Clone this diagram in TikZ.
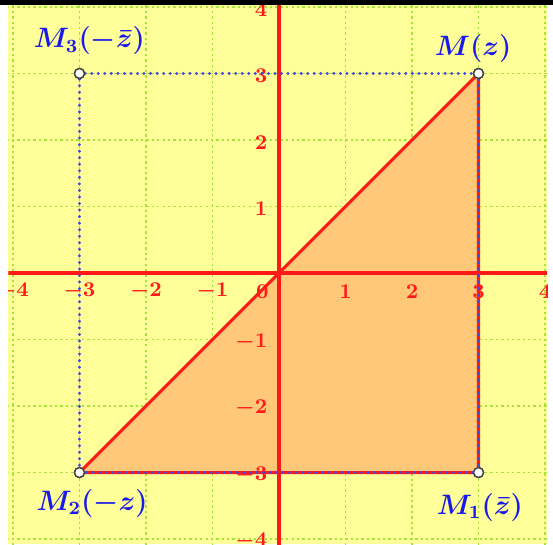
\documentclass[tikz,border=0pt]{standalone}
\definecolor{bgyellow}{RGB}{255,255,153}
\definecolor{gridgreen}{RGB}{165,228,60}
\definecolor{fillorange}{RGB}{255,200,120}
\definecolor{dotblue}{RGB}{70,70,220}
\definecolor{lblblue}{RGB}{25,25,235}
\definecolor{axred}{RGB}{255,25,25}
\tikzset{
  gridline/.style={gridgreen, line width=0.5pt, dash pattern=on 1pt off 1.3pt},
  axisline/.style={axred, line width=1.4pt},
  edgeline/.style={axred, line width=1.3pt},
  dotline/.style={dotblue, line width=1.4pt, line cap=round, dash pattern=on 0pt off 2.8pt},
  pt/.style={circle, draw=black!75, fill=white, line width=0.6pt, inner sep=0pt, minimum size=0.15cm},
  ticklbl/.style={axred, font=\fontsize{9.5}{10}\selectfont\bfseries\boldmath, inner sep=0pt},
  ptlbl/.style={lblblue, font=\fontsize{11.5}{13}\selectfont\boldmath, inner sep=0pt}
}
\begin{document}
\begin{tikzpicture}[x=1cm,y=1cm]
\useasboundingbox (-4.195,-4.075) rectangle (4.12,4.105);
\fill[bgyellow] (-4.068,-4.075) rectangle (4.03,4.03);
\coordinate (O) at (0,0);
\coordinate (XL) at (-4.3,0);
\coordinate (XR) at (4.3,0);
\coordinate (YB) at (0,-4.3);
\coordinate (YT) at (0,4.3);
\begin{scope}
\clip (-4.068,-4.075) rectangle (4.03,4.03);
\draw[gridline] (-4.5,-4.5) grid[step=1] (4.5,4.5);
\node[pt] (M) at (3,3) {};
\node[pt] (M1) at (3,-3) {};
\node[pt] (M2) at (-3,-3) {};
\node[pt] (M3) at (-3,3) {};
\fill[fillorange] (M2.center) -- (M.center) -- (M1.center) -- cycle;
\draw[axisline] (XL) -- (XR);
\draw[axisline] (YB) -- (YT);
\foreach \k/\t in {-4/-4,-3/-3,-2/-2,-1/-1,1/1,2/2,3/3,4/4} {
  \node[ticklbl] (xl\k) at (\k,-0.28) {$\t$};
  \node[ticklbl, anchor=east] (yl\k) at (-0.17,\k-0.04) {$\t$};
}
\node[ticklbl] (zl) at (-0.25,-0.28) {$0$};
\draw[edgeline] (M2.center) -- (M.center) -- (M1.center) -- (M2.center);
\draw[dotline] (M3) -- (M);
\draw[dotline] (M3) -- (M2);
\draw[dotline] (M) -- (M1);
\draw[dotline] (M1) -- (M2);
\node[pt] at (M) {};
\node[pt] at (M1) {};
\node[pt] at (M2) {};
\node[pt] at (M3) {};
\node[ptlbl] (LM) at (2.92,3.38) {$M(z)$};
\node[ptlbl] (LM3) at (-2.85,3.49) {$M_3(-\bar{z})$};
\node[ptlbl] (LM1) at (3.02,-3.53) {$M_1(\bar{z})$};
\node[ptlbl] (LM2) at (-2.81,-3.47) {$M_2(-z)$};
\end{scope}
\fill[black] (-4.195,4.03) rectangle (4.12,4.105);
\end{tikzpicture}
\end{document}
